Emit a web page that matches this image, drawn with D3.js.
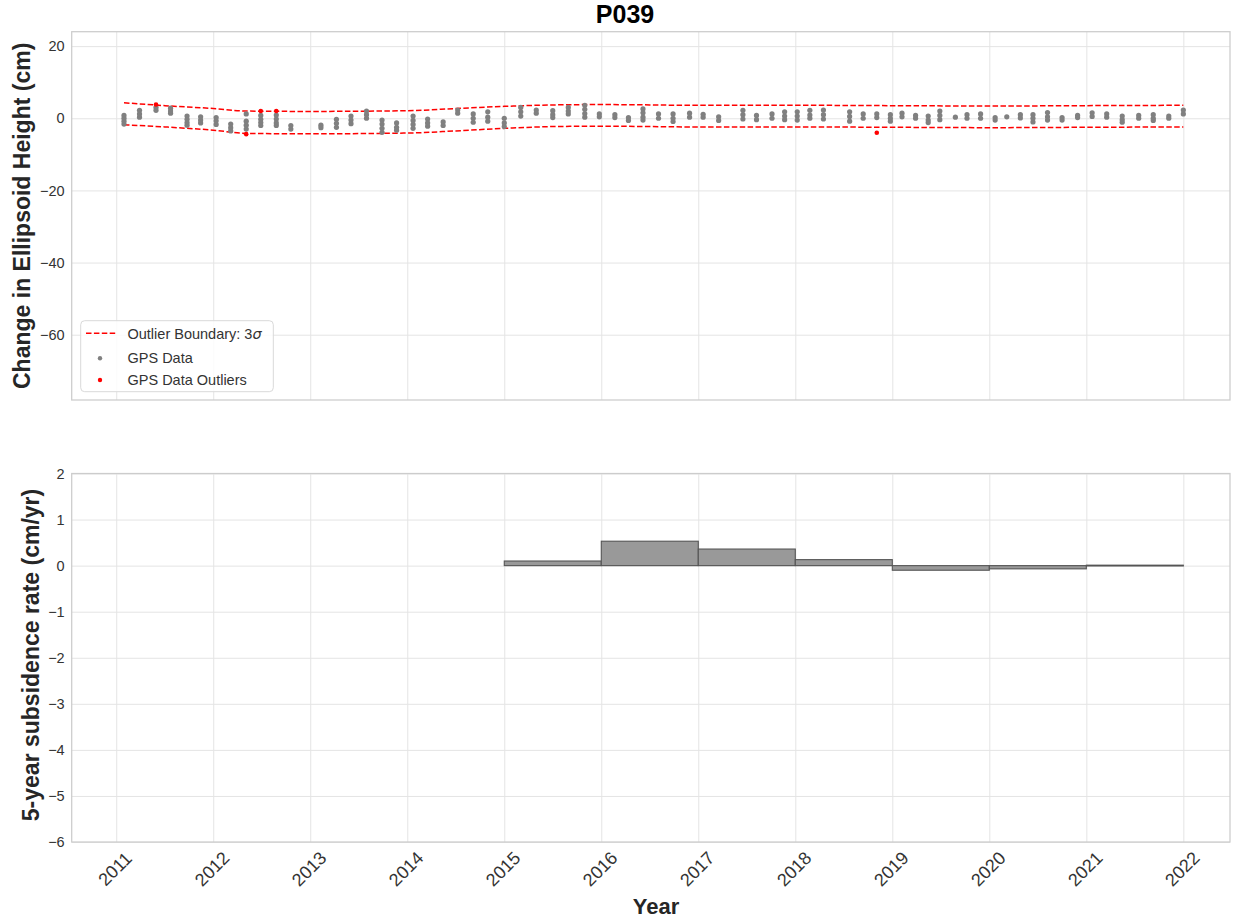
<!DOCTYPE html>
<html>
<head>
<meta charset="utf-8">
<script src="https://cdn.jsdelivr.net/npm/d3@7"></script>
<style>
  body { margin: 0; background: #fff; }
  svg { display: block; }
  text { font-family: "Liberation Sans", Arial, Helvetica, sans-serif; }
</style>
</head>
<body>
<svg id="chart" width="1238" height="922"></svg>
<script>
// Station P039: GPS ellipsoid height time series and 5-year rates

const stationName = "P039";

// Survey epochs (decimal year) and the heights (cm) observed around each epoch
const gpsEpochs = [
  2011.08, 2011.24, 2011.41, 2011.56, 2011.73, 2011.87, 2012.03, 2012.18, 2012.34, 2012.49,
  2012.65, 2012.80, 2013.11, 2013.27, 2013.42, 2013.58, 2013.74, 2013.89, 2014.06, 2014.21,
  2014.37, 2014.52, 2014.68, 2014.83, 2015.00, 2015.17, 2015.33, 2015.50, 2015.66, 2015.83,
  2015.98, 2016.14, 2016.28, 2016.43, 2016.59, 2016.74, 2016.91, 2017.05, 2017.21, 2017.46,
  2017.60, 2017.76, 2017.89, 2018.02, 2018.15, 2018.29, 2018.56, 2018.70, 2018.84, 2018.98,
  2019.10, 2019.24, 2019.37, 2019.49, 2019.65, 2019.77, 2019.91, 2020.06, 2020.18, 2020.32,
  2020.45, 2020.60, 2020.75, 2020.91, 2021.06, 2021.21, 2021.37, 2021.54, 2021.69, 2021.85,
  2022.00
];
const gpsHeights = [
  [0.8, 0.0, -0.8, -1.6], [2.2, 1.2, 0.3], [3.0, 2.2], [2.8, 2.0, 1.4], [0.6, -0.3, -1.2, -1.9],
  [0.4, -0.5, -1.3], [0.2, -0.7, -1.7], [-1.6, -2.6, -3.5], [1.2, -0.8, -1.9, -3.0], [0.8, -0.3, -1.2, -2.0],
  [0.9, -0.2, -1.3, -2.0], [-2.0, -3.0], [-1.9, -2.6], [-0.3, -1.4, -2.5], [0.6, -0.5, -1.5],
  [2.0, 1.0, 0.0], [-0.5, -1.6, -2.8, -3.9], [-1.3, -2.5, -3.3], [0.6, -0.6, -1.7, -2.8], [-0.2, -1.3, -2.2],
  [-1.0, -2.0], [2.3, 1.4], [1.2, 0.0, -1.1], [1.8, 0.3, -0.8], [0.0, -1.3, -2.3],
  [3.0, 1.8, 0.6], [2.3, 1.4], [2.1, 1.0, 0.2], [3.0, 2.0, 1.2], [3.6, 2.5, 1.3, 0.3],
  [1.2, 0.4], [1.0, 0.2], [0.2, -0.6], [2.6, 1.5, 0.3, -0.5], [1.2, 0.0],
  [1.2, 0.0, -0.9], [1.4, 0.3], [1.1, 0.3], [0.4, -0.6], [2.2, 1.0, -0.2],
  [0.8, -0.4], [1.2, 0.0], [1.8, 0.6, -0.4], [1.8, 0.6, -0.5], [2.2, 0.9, 0.0],
  [2.3, 1.0, -0.2], [1.8, 0.5, -0.8], [1.2, 0.0], [1.2, 0.2], [1.0, 0.0, -0.8],
  [1.4, 0.4], [0.8, 0.0], [0.6, -0.5, -1.2], [2.0, 0.8, -0.4], [0.3],
  [1.0, 0.0], [1.2, 0.0], [0.2, -0.5], [0.4], [1.0, 0.1],
  [1.0, 0.0, -1.0], [1.6, 0.4, -0.5], [0.2, -0.5], [0.8, 0.2], [1.5, 0.5],
  [1.2, 0.3], [0.6, -0.4, -1.1], [0.8, 0.0], [1.0, 0.0, -0.6], [0.6, 0.0],
  [2.3, 1.2]
];

// Observations falling outside the 3-sigma band
const outlierEpochs = [2011.41, 2012.34, 2012.49, 2012.65, 2018.84];
const outlierHeights = [3.8, -4.4, 2.0, 2.0, -4.0];

// 3-sigma outlier boundary (cm)
const boundaryEpochs = [2011.08, 2011.5, 2012.0, 2012.35, 2013.0, 2014.0, 2014.5, 2015.0, 2015.5, 2016.0, 2017.0, 2018.0, 2019.0, 2020.0, 2021.0, 2022.0];
const boundaryUpper  = [4.3, 3.5, 2.7, 2.0, 1.9, 2.1, 2.7, 3.3, 3.7, 3.8, 3.6, 3.6, 3.5, 3.4, 3.5, 3.6];
const boundaryLower  = [-1.8, -2.4, -3.3, -4.2, -4.3, -4.1, -3.5, -2.8, -2.3, -2.2, -2.4, -2.4, -2.5, -2.6, -2.5, -2.4];

// 5-year subsidence rate (cm/yr), one bar per year starting at that year
const rateYears  = [2015, 2016, 2017, 2018, 2019, 2020, 2021];
const rateValues = [0.10, 0.53, 0.36, 0.13, -0.10, -0.07, 0.01];

// Axis ticks
const yearTicks = [2011, 2012, 2013, 2014, 2015, 2016, 2017, 2018, 2019, 2020, 2021, 2022];
const heightTicks = [20, 0, -20, -40, -60];
const rateTicks = [2, 1, 0, -1, -2, -3, -4, -5, -6];

const svg = d3.select("#chart");
const W = 1238, H = 922;
svg.append("rect").attr("width", W).attr("height", H).attr("fill", "#fff");

const left = 71.7, right = 1230;
const top1 = 31.7, bottom1 = 400;
const top2 = 473.5, bottom2 = 842;

const x = d3.scaleLinear().domain([2010.541, 2022.481]).range([left, right]);
const yH = d3.scaleLinear().domain([-78.1, 24.0]).range([bottom1, top1]);
const yR = d3.scaleLinear().domain([-6, 2]).range([bottom2, top2]);

const gridColor = "#e4e4e4";
const spineColor = "#cccccc";
const tickColor = "#333333";
const fmt = d3.format("d");

function panel(yScale, yTicks, top, bottom, id) {
  const g = svg.append("g").attr("class", "panel-" + id);
  // grid
  g.append("g").attr("transform", `translate(0,${bottom})`)
    .call(d3.axisBottom(x).tickValues(yearTicks).tickSize(-(bottom - top)).tickFormat(""))
    .call(a => a.select(".domain").remove())
    .call(a => a.selectAll("line").attr("stroke", gridColor).attr("stroke-width", 1));
  g.append("g").attr("transform", `translate(${left},0)`)
    .call(d3.axisLeft(yScale).tickValues(yTicks).tickSize(-(right - left)).tickPadding(7).tickFormat(fmt))
    .call(a => a.select(".domain").remove())
    .call(a => a.selectAll("line").attr("stroke", gridColor).attr("stroke-width", 1))
    .call(a => a.selectAll("text").attr("fill", tickColor).style("font-size", "14.5px")
      .style("font-family", '"Liberation Sans", Arial, sans-serif'));
  return g;
}

function frame(g, top, bottom) {
  g.append("rect").attr("x", left).attr("y", top)
    .attr("width", right - left).attr("height", bottom - top)
    .attr("fill", "none").attr("stroke", spineColor).attr("stroke-width", 1.25);
}

// ---- Upper panel: height time series ----
const p1 = panel(yH, heightTicks, top1, bottom1, "height");

const bandLine = arr => d3.line()
  .x((d, i) => x(boundaryEpochs[i]))
  .y(d => yH(d))
  .curve(d3.curveMonotoneX)(arr);

p1.append("path").attr("d", bandLine(boundaryUpper))
  .attr("fill", "none").attr("stroke", "#ff0000").attr("stroke-width", 1.5).attr("stroke-dasharray", "5.5,2.4");
p1.append("path").attr("d", bandLine(boundaryLower))
  .attr("fill", "none").attr("stroke", "#ff0000").attr("stroke-width", 1.5).attr("stroke-dasharray", "5.5,2.4");

const gpsPoints = gpsEpochs.flatMap((t, i) => gpsHeights[i].map(h => ({ t, h })));
p1.append("g").selectAll("circle").data(gpsPoints).join("circle")
  .attr("cx", d => x(d.t)).attr("cy", d => yH(d.h)).attr("r", 2.6)
  .attr("fill", "#808080");

const outPoints = outlierEpochs.map((t, i) => ({ t, h: outlierHeights[i] }));
p1.append("g").selectAll("circle").data(outPoints).join("circle")
  .attr("cx", d => x(d.t)).attr("cy", d => yH(d.h)).attr("r", 2.3)
  .attr("fill", "#ff0000");

frame(p1, top1, bottom1);

// legend
const lg = p1.append("g");
lg.append("rect").attr("x", 80.7).attr("y", 320.7).attr("width", 192.6).attr("height", 71)
  .attr("rx", 4).attr("fill", "#fff").attr("fill-opacity", 0.85)
  .attr("stroke", "#d9d9d9").attr("stroke-width", 1);
lg.append("line").attr("x1", 86).attr("x2", 116).attr("y1", 333.3).attr("y2", 333.3)
  .attr("stroke", "#ff0000").attr("stroke-width", 1.5).attr("stroke-dasharray", "5.5,2.4");
lg.append("circle").attr("cx", 100).attr("cy", 358.3).attr("r", 2.2).attr("fill", "#808080");
lg.append("circle").attr("cx", 100).attr("cy", 380).attr("r", 2.2).attr("fill", "#ff0000");
const legendText = lg.append("g").attr("fill", tickColor).style("font-size", "14.5px");
const t1 = legendText.append("text").attr("x", 127.5).attr("y", 338.5).text("Outlier Boundary: 3");
t1.append("tspan").style("font-style", "italic").style("font-family", '"DejaVu Sans", sans-serif').text("σ");
legendText.append("text").attr("x", 127.5).attr("y", 363).text("GPS Data");
legendText.append("text").attr("x", 127.5).attr("y", 384.5).text("GPS Data Outliers");

// ---- Lower panel: 5-year rate bars ----
const p2 = panel(yR, rateTicks, top2, bottom2, "rate");

p2.append("g").selectAll("rect").data(rateYears.map((yr, i) => ({ yr, v: rateValues[i] }))).join("rect")
  .attr("x", d => x(d.yr))
  .attr("width", d => x(d.yr + 1) - x(d.yr))
  .attr("y", d => yR(Math.max(0, d.v)))
  .attr("height", d => Math.max(0.8, Math.abs(yR(d.v) - yR(0))))
  .attr("fill", "#999999")
  .attr("stroke", "#555555").attr("stroke-width", 1.1);

frame(p2, top2, bottom2);

// rotated year labels
p2.append("g").selectAll("text").data(yearTicks).join("text")
  .attr("transform", d => `translate(${x(d) - 1},869) rotate(-45)`)
  .attr("text-anchor", "middle").attr("dominant-baseline", "central")
  .attr("fill", tickColor).style("font-size", "18px")
  .text(d => fmt(d));

// ---- Titles and axis labels ----
svg.append("text").attr("x", 625).attr("y", 23).attr("text-anchor", "middle")
  .style("font-size", "25px").style("font-weight", "bold").attr("fill", "#000").text(stationName);

svg.append("text").attr("x", 656).attr("y", 914).attr("text-anchor", "middle")
  .style("font-size", "22px").style("font-weight", "bold").attr("fill", "#262626").text("Year");

svg.append("text").attr("transform", `translate(30,${(top1 + bottom1) / 2}) rotate(-90)`)
  .attr("text-anchor", "middle")
  .style("font-size", "23px").style("font-weight", "bold").attr("fill", "#262626")
  .text("Change in Ellipsoid Height (cm)");

svg.append("text").attr("transform", `translate(38.5,655) rotate(-90)`)
  .attr("text-anchor", "middle")
  .style("font-size", "23px").style("font-weight", "bold").attr("fill", "#262626")
  .text("5-year subsidence rate (cm/yr)");
</script>
</body>
</html>
